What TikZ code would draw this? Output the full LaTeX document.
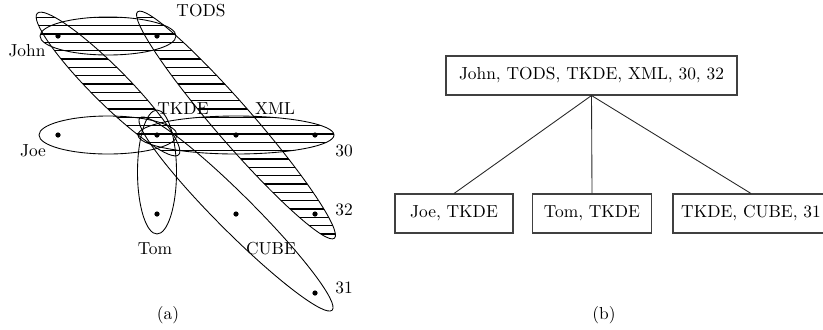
\documentclass[tikz,border=0pt]{standalone}
\begin{document}
\begin{tikzpicture}[x=0.575pt,y=-0.575pt,line width=0.5pt,
  dot/.style={circle,fill,inner sep=0pt,minimum size=3pt},
  lbl/.style={inner sep=0pt},
  hatchline/.style={line width=0.7pt},
  setbox/.style={draw=black!75,line width=0.6pt,minimum height=39*0.575pt,inner sep=0pt},
  link/.style={draw=black!85,line width=0.5pt}]
\useasboundingbox (0,0) rectangle (823,329);
\clip (0,0) rectangle (823,329);
\newcommand\myhatch{\foreach \k in {-16,...,14} \draw[hatchline] (0,{134+8.33*\k}) -- (360,{134+8.33*\k});}
% hatched hyperedges
\begin{scope}
  \clip (108,36) ellipse [x radius=68, y radius=19];
  \myhatch
\end{scope}
\begin{scope}
  \clip (236,135) ellipse [x radius=98, y radius=19];
  \myhatch
\end{scope}
\begin{scope}
  \clip[rotate around={-45:(108,84)}] (108,84) ellipse [x radius=100, y radius=18];
  \myhatch
\end{scope}
\begin{scope}
  \clip[rotate around={-49:(236,125)}] (236,125) ellipse [x radius=150, y radius=19];
  \myhatch
\end{scope}
% outlines
\draw (108,36) ellipse [x radius=68, y radius=19];
\draw (108,135) ellipse [x radius=69, y radius=19];
\draw (236,135) ellipse [x radius=98, y radius=19];
\draw (157,172) ellipse [x radius=19.5, y radius=62];
\draw[rotate around={-45:(108,84)}] (108,84) ellipse [x radius=100, y radius=18];
\draw[rotate around={-45:(236,214)}] (236,214) ellipse [x radius=136, y radius=18.5];
\draw[rotate around={-49:(236,125)}] (236,125) ellipse [x radius=150, y radius=19];
% vertices
\node[dot] (vjohn) at (58,36) {};
\node[dot] (vtods) at (157,36) {};
\node[dot] (vjoe) at (58,135) {};
\node[dot] (vtkde) at (157,135) {};
\node[dot] (vxml) at (236,135) {};
\node[dot] (v30) at (315,135) {};
\node[dot] (vtom) at (157,214) {};
\node[dot] (vcube) at (236,214) {};
\node[dot] (v32) at (315,214) {};
\node[dot] (v31) at (315,293) {};
% labels
\node[lbl] (ltods) at (201,11) {TODS};
\node[lbl] (ljohn) at (27,51) {John};
\node[lbl] (ltkde) at (183,109) {TKDE};
\node[lbl] (lxml) at (275,109) {XML};
\node[lbl] (ljoe) at (33,151) {Joe};
\node[lbl] (l30) at (344,151) {30};
\node[lbl] (l32) at (344,210) {32};
\node[lbl] (ltom) at (155,249) {Tom};
\node[lbl] (lcube) at (271,249) {CUBE};
\node[lbl] (l31) at (344,288) {31};
\node[lbl] (capa) at (168,315) {(a)};
% tree
\node[setbox, minimum width=291*0.575pt] (root) at (591.5,75.5) {John, TODS, TKDE, XML, 30, 32};
\node[setbox, minimum width=118*0.575pt] (joebox) at (454,213.5) {Joe, TKDE};
\node[setbox, minimum width=119*0.575pt] (tombox) at (592,213.5) {Tom, TKDE};
\node[setbox, minimum width=156*0.575pt] (cubebox) at (751,213.5) {TKDE, CUBE, 31};
\draw[link] (root.south) -- (joebox.north);
\draw[link] (root.south) -- (tombox.north);
\draw[link] (root.south) -- (cubebox.north);
\node[lbl] (capb) at (604,315) {(b)};
\end{tikzpicture}
\end{document}
